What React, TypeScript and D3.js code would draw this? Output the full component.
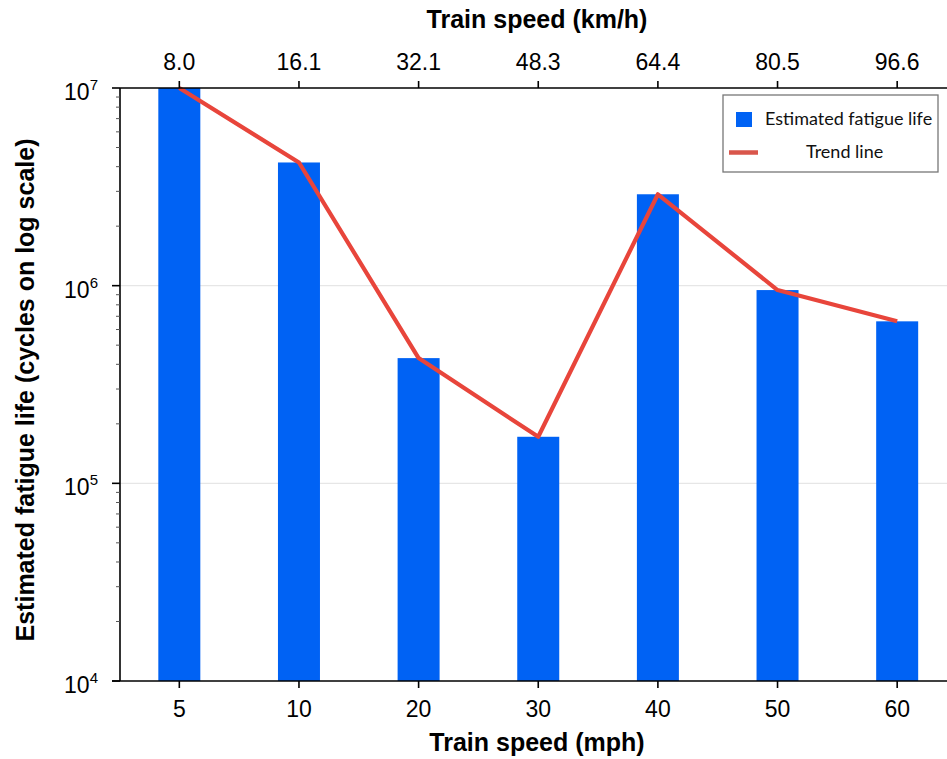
import React, { useEffect } from "react";
import * as d3 from "d3";

// Train speeds (mph) on the bottom axis, the same speeds in km/h on top
const speedsMph = ["5", "10", "20", "30", "40", "50", "60"];
const speedsKmh = ["8.0", "16.1", "32.1", "48.3", "64.4", "80.5", "96.6"];
// Estimated fatigue life in cycles, one per speed
const fatigueLife = [1.0e7, 4.2e6, 4.3e5, 1.72e5, 2.9e6, 9.5e5, 6.6e5];
// Decade ticks of the log axis
const decadeExponents = [4, 5, 6, 7];

const W = 947;
const H = 759;
const plot = { left: 120, top: 88, bottom: 681, right: 957 };

const BAR_BLUE = "#0062f4";
const TREND_RED = "#e8453b";
const FONT = "'Liberation Sans', Arial, Helvetica, sans-serif";

export default function App() {
  useEffect(() => {
    document.body.style.margin = "0";
  }, []);

  const x = d3
    .scaleBand<string>()
    .domain(speedsMph)
    .range([plot.left - 0.5, plot.right])
    .padding(0);
  const y = d3
    .scaleLog()
    .domain([1e4, 1e7])
    .range([plot.bottom, plot.top]);

  const barW = 42;
  const cx = (i: number) => (x(speedsMph[i]) as number) + x.bandwidth() / 2;

  const line = d3
    .line<number>()
    .x((_, i) => cx(i))
    .y((v) => y(v));

  // minor ticks at 2..9 within each decade
  const minor: number[] = [];
  for (let e = 4; e < 7; e++) {
    for (let m = 2; m <= 9; m++) minor.push(m * Math.pow(10, e));
  }

  return (
    <svg width={W} height={H} style={{ display: "block", background: "#fff" }} fontFamily={FONT}>
      {/* light grid at inner decades */}
      {[1e5, 1e6].map((v) => (
        <line key={v} x1={plot.left} x2={W} y1={y(v)} y2={y(v)} stroke="#e6e6e6" strokeWidth={1.2} />
      ))}

      {/* bars */}
      {fatigueLife.map((v, i) => (
        <rect
          key={i}
          x={cx(i) - barW / 2}
          y={y(v)}
          width={barW}
          height={plot.bottom - y(v)}
          fill={BAR_BLUE}
        />
      ))}

      {/* trend line through bar tops */}
      <path d={line(fatigueLife) as string} fill="none" stroke={TREND_RED} strokeWidth={4.2} strokeLinejoin="round" />

      {/* left axis */}
      <line x1={plot.left} x2={plot.left} y1={plot.top} y2={plot.bottom} stroke="#000" strokeWidth={1.6} />
      {minor.map((v) => (
        <line key={v} x1={plot.left - 4} x2={plot.left} y1={y(v)} y2={y(v)} stroke="#555" strokeWidth={1} />
      ))}
      {decadeExponents.map((e) => {
        const yy = y(Math.pow(10, e));
        return (
          <g key={e}>
            <line x1={plot.left - 8} x2={plot.left} y1={yy} y2={yy} stroke="#000" strokeWidth={1.6} />
            <text x={98} y={yy + 12} textAnchor="end" fontSize={23} fill="#000">
              10
              <tspan fontSize={15} dy={-10}>
                {e}
              </tspan>
            </text>
          </g>
        );
      })}

      {/* bottom axis */}
      <line x1={plot.left - 8} x2={W} y1={plot.bottom} y2={plot.bottom} stroke="#000" strokeWidth={1.6} />
      {speedsMph.map((s, i) => (
        <g key={s}>
          <line x1={cx(i)} x2={cx(i)} y1={plot.bottom} y2={plot.bottom + 7} stroke="#000" strokeWidth={1.6} />
          <text x={cx(i)} y={717} textAnchor="middle" fontSize={23} fill="#000">
            {s}
          </text>
        </g>
      ))}
      <text x={537} y={751} textAnchor="middle" fontSize={25} fontWeight="bold" fill="#000">
        Train speed (mph)
      </text>

      {/* top axis */}
      <line x1={plot.left} x2={W} y1={plot.top} y2={plot.top} stroke="#000" strokeWidth={1.6} />
      {speedsKmh.map((s, i) => (
        <g key={s}>
          <line x1={cx(i)} x2={cx(i)} y1={plot.top} y2={plot.top - 7} stroke="#000" strokeWidth={1.6} />
          <text x={cx(i)} y={70} textAnchor="middle" fontSize={23} fill="#000">
            {s}
          </text>
        </g>
      ))}
      <text x={537} y={28} textAnchor="middle" fontSize={25} fontWeight="bold" fill="#000">
        Train speed (km/h)
      </text>

      {/* y axis title */}
      <text
        transform={`translate(34, 390) rotate(-90)`}
        textAnchor="middle"
        fontSize={25}
        fontWeight="bold"
        fill="#000"
      >
        Estimated fatigue life (cycles on log scale)
      </text>

      {/* legend */}
      <g fontFamily="Lato, 'Open Sans', sans-serif">
        <rect x={723} y={95} width={215} height={77} fill="#fff" stroke="#777" strokeWidth={1.3} />
        <rect x={736} y={112} width={16} height={15} fill={BAR_BLUE} />
        <text x={765} y={124.5} fontSize={18} fill="#111">
          Estimated fatigue life
        </text>
        <line x1={729} x2={758} y1={152.5} y2={152.5} stroke="#d9564b" strokeWidth={4.5} />
        <text x={806} y={157.5} fontSize={18} fill="#111">
          Trend line
        </text>
      </g>
    </svg>
  );
}
